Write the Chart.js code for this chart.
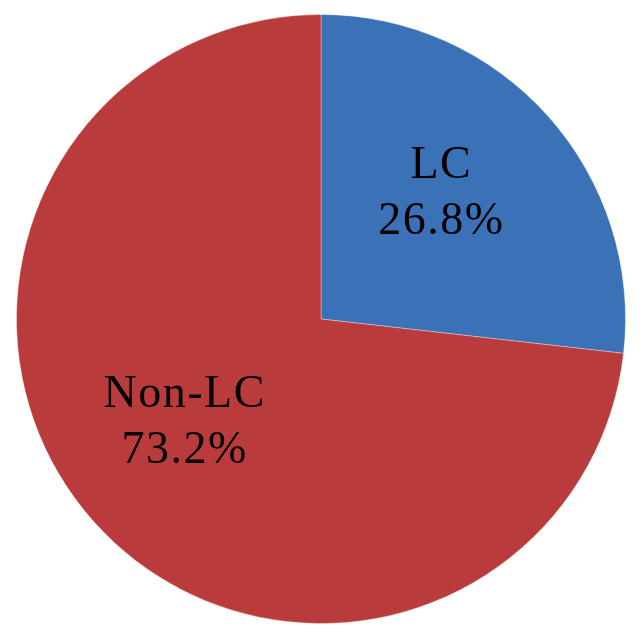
<!DOCTYPE html>
<html>
<head>
<meta charset="utf-8">
<script src="https://cdn.jsdelivr.net/npm/chart.js@4"></script>
<style>
  html, body { margin: 0; padding: 0; background: #fff; }
  #wrap { width: 640px; height: 640px; }
</style>
</head>
<body>
<div id="wrap"><canvas id="pieChart" width="640" height="640"></canvas></div>
<script>
var labels = ["LC", "Non-LC"];
var shares = [26.8, 73.2];
var pctLabels = ["26.8%", "73.2%"];

var baseColors = ["#3a71b7", "#ba3b3b"];

var sliceText = {
    id: "sliceText",
    afterDatasetsDraw: function (chart) {
        var ctx = chart.ctx;
        var meta = chart.getDatasetMeta(0);
        var factors = [0.53, 0.6];
        ctx.save();
        ctx.fillStyle = "#000";
        ctx.font = "46px 'Liberation Serif', 'Times New Roman', serif";
        ctx.letterSpacing = "1.5px";
        ctx.textAlign = "center";
        ctx.textBaseline = "alphabetic";
        meta.data.forEach(function (arc, i) {
            var mid = (arc.startAngle + arc.endAngle) / 2;
            var r = arc.outerRadius * factors[i];
            var x = arc.x + Math.cos(mid) * r;
            var y = arc.y + Math.sin(mid) * r;
            ctx.fillText(labels[i], x, y - 34);
            ctx.fillText(pctLabels[i], x, y + 22);
        });
        ctx.restore();
    }
};

var pie = new Chart(document.getElementById("pieChart").getContext("2d"), {
    type: "pie",
    data: {
        labels: labels,
        datasets: [
            {
                data: shares,
                backgroundColor: baseColors,
                borderColor: "rgba(255,255,255,0.35)",
                borderWidth: 1,
                hoverOffset: 0
            }
        ]
    },
    options: {
        responsive: false,
        animation: false,
        layout: { padding: { left: 16, right: 14, top: 14, bottom: 16 } },
        plugins: {
            legend: { display: false },
            tooltip: { enabled: false }
        }
    },
    plugins: [sliceText]
});
</script>
</body>
</html>
